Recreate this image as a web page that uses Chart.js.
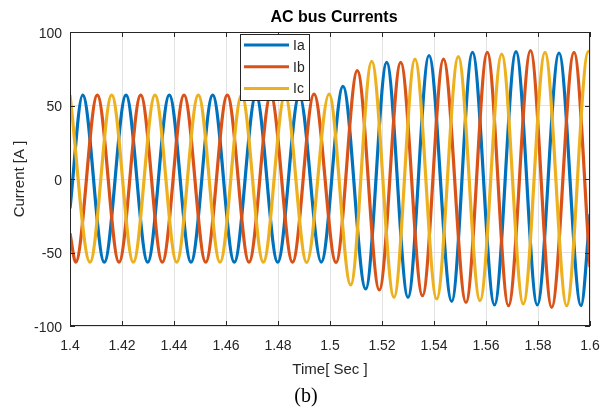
<!DOCTYPE html>
<html>
<head>
<meta charset="utf-8">
<script src="https://cdn.jsdelivr.net/npm/chart.js@4.4.1/dist/chart.umd.min.js"></script>
<style>
  html, body { margin: 0; padding: 0; background: #fff; }
  canvas { display: block; }
</style>
</head>
<body>
<canvas id="currentsChart" width="602" height="414"></canvas>
<script>
// extrema of each phase current (time in s, current in A)
const timeA = [1.4, 1.40488, 1.41319, 1.42154, 1.42988, 1.43819, 1.44654, 1.45488, 1.46319, 1.47154,
  1.47988, 1.48819, 1.49665, 1.505, 1.51373, 1.52181, 1.53, 1.53808, 1.54681, 1.55481,
  1.56327, 1.57154, 1.57973, 1.58808, 1.59654, 1.6];
const ia = [-20, 57, -56.5, 57, -56.5, 57, -56.5, 57, -56.5, 57,
  -56.5, 57, -56.5, 63, -74.8, 79.4, -80.5, 84, -83.2, 86.2,
  -85.7, 86.6, -85.7, 85.7, -86.2, -24];

const timeB = [1.4, 1.40219, 1.4105, 1.41885, 1.42719, 1.4355, 1.44385, 1.45219, 1.4605, 1.46885,
  1.47719, 1.48558, 1.49385, 1.50231, 1.5105, 1.51896, 1.52719, 1.53558, 1.54365, 1.55231,
  1.5605, 1.56865, 1.57712, 1.58527, 1.59385, 1.6];
const ib = [-37, -56.5, 57, -56.5, 57, -56.5, 57, -56.5, 57, -56.5,
  57, -56.5, 57.8, -56.7, 73.7, -75.5, 79.4, -79.4, 81.6, -84,
  86.2, -86.2, 87.3, -87.3, 86.2, -60];

const timeC = [1.4, 1.40769, 1.41604, 1.42435, 1.43269, 1.44104, 1.44935, 1.45769, 1.46604, 1.47435,
  1.48269, 1.49104, 1.49962, 1.50796, 1.51604, 1.52462, 1.53269, 1.54104, 1.54935, 1.55769,
  1.56604, 1.57435, 1.58269, 1.59104, 1.59935, 1.6];
const ic = [57, -56.5, 57, -56.5, 57, -56.5, 57, -56.5, 57, -56.5,
  57, -56.7, 57.8, -72, 80, -80.5, 81.6, -81.6, 83.2, -82.8,
  85, -85, 86.2, -86.2, 86.6, 86.5];

const seriesNames = ['Ia', 'Ib', 'Ic'];
const seriesColors = ['#0072BD', '#D95319', '#EDB120'];

const xTicks = [1.4, 1.42, 1.44, 1.46, 1.48, 1.5, 1.52, 1.54, 1.56, 1.58, 1.6];
const xTickLabels = ['1.4', '1.42', '1.44', '1.46', '1.48', '1.5', '1.52', '1.54', '1.56', '1.58', '1.6'];
const yTicks = [-100, -50, 0, 50, 100];
const yTickLabels = ['-100', '-50', '0', '50', '100'];

const FONT = "'Liberation Sans', Arial, Helvetica, sans-serif";
const INK = '#262626';

function toPoints(times, values) {
  return times.map((t, i) => ({ x: t, y: values[i] }));
}

// box round the axes, inward ticks, legend, title and caption
const decorations = {
  id: 'decorations',
  afterDatasetsDraw(chart) {
    const { ctx, chartArea: a, scales: { x, y } } = chart;
    ctx.save();
    ctx.strokeStyle = INK;
    ctx.lineWidth = 1;
    ctx.beginPath();
    xTicks.forEach(v => {
      const px = Math.round(x.getPixelForValue(v)) + 0.5;
      ctx.moveTo(px, a.bottom); ctx.lineTo(px, a.bottom - 5);
      ctx.moveTo(px, a.top); ctx.lineTo(px, a.top + 5);
    });
    yTicks.forEach(v => {
      const py = Math.round(y.getPixelForValue(v)) + 0.5;
      ctx.moveTo(a.left, py); ctx.lineTo(a.left + 5, py);
      ctx.moveTo(a.right, py); ctx.lineTo(a.right - 5, py);
    });
    ctx.stroke();
    ctx.strokeRect(a.left + 0.5, a.top + 0.5, a.width - 1, a.height - 1);

    // legend
    const lx = 240, ly = 34, lw = 69, lh = 66;
    ctx.fillStyle = '#fff';
    ctx.fillRect(lx, ly, lw, lh);
    ctx.strokeRect(lx + 0.5, ly + 0.5, lw, lh);
    ctx.font = '14px ' + FONT;
    ctx.textBaseline = 'middle';
    ctx.textAlign = 'left';
    chart.data.datasets.forEach((ds, i) => {
      const rowY = ly + 11 + i * 21.7;
      ctx.strokeStyle = ds.borderColor;
      ctx.lineWidth = 3;
      ctx.beginPath();
      ctx.moveTo(lx + 4, rowY); ctx.lineTo(lx + 49, rowY);
      ctx.stroke();
      ctx.fillStyle = INK;
      ctx.fillText(ds.label, lx + 53, rowY + 1);
    });
    ctx.restore();
  },
  afterDraw(chart) {
    const { ctx } = chart;
    ctx.save();
    ctx.fillStyle = '#000';
    ctx.textAlign = 'center';
    ctx.textBaseline = 'middle';
    ctx.font = 'bold 16px ' + FONT;
    ctx.fillText('AC bus Currents', 334, 18);
    ctx.font = "20px 'Liberation Serif', 'Times New Roman', serif";
    ctx.fillText('(b)', 306, 397);
    ctx.restore();
  }
};

Chart.defaults.font.family = FONT;
Chart.defaults.color = INK;

const ctx = document.getElementById('currentsChart').getContext('2d');
new Chart(ctx, {
  type: 'line',
  data: {
    datasets: [
      { label: seriesNames[0], data: toPoints(timeA, ia), borderColor: seriesColors[0], order: 3 },
      { label: seriesNames[1], data: toPoints(timeB, ib), borderColor: seriesColors[1], order: 2 },
      { label: seriesNames[2], data: toPoints(timeC, ic), borderColor: seriesColors[2], order: 1 }
    ]
  },
  options: {
    responsive: false,
    animation: false,
    parsing: false,
    layout: { padding: { left: 0, right: 12, top: 32, bottom: 0 } },
    elements: {
      line: { borderWidth: 3.2, cubicInterpolationMode: 'monotone', fill: false },
      point: { radius: 0 }
    },
    plugins: {
      legend: { display: false },
      tooltip: { enabled: false }
    },
    scales: {
      x: {
        type: 'linear',
        min: 1.4,
        max: 1.6,
        afterBuildTicks: s => { s.ticks = xTicks.map(v => ({ value: v })); },
        afterFit: s => { s.height = 88; s.paddingLeft = 0; s.paddingRight = 0; },
        ticks: {
          font: { size: 14 },
          padding: 12,
          maxRotation: 0,
          autoSkip: false,
          callback: (v, i) => xTickLabels[i]
        },
        grid: { color: '#e3e3e3', drawTicks: false },
        border: { display: false },
        title: { display: true, text: 'Time[ Sec ]', font: { size: 15 }, padding: { top: 0, bottom: 35 } }
      },
      y: {
        min: -100,
        max: 100,
        afterBuildTicks: s => { s.ticks = yTicks.map(v => ({ value: v })); },
        afterFit: s => { s.width = 70; s.paddingTop = 0; s.paddingBottom = 0; },
        ticks: {
          font: { size: 14 },
          padding: 8,
          labelOffset: 2,
          callback: (v, i) => yTickLabels[i]
        },
        grid: { color: '#e3e3e3', drawTicks: false },
        border: { display: false },
        title: { display: true, text: 'Current [A ]', font: { size: 15 }, padding: { top: 11, bottom: 0 } }
      }
    }
  },
  plugins: [decorations]
});
</script>
</body>
</html>
